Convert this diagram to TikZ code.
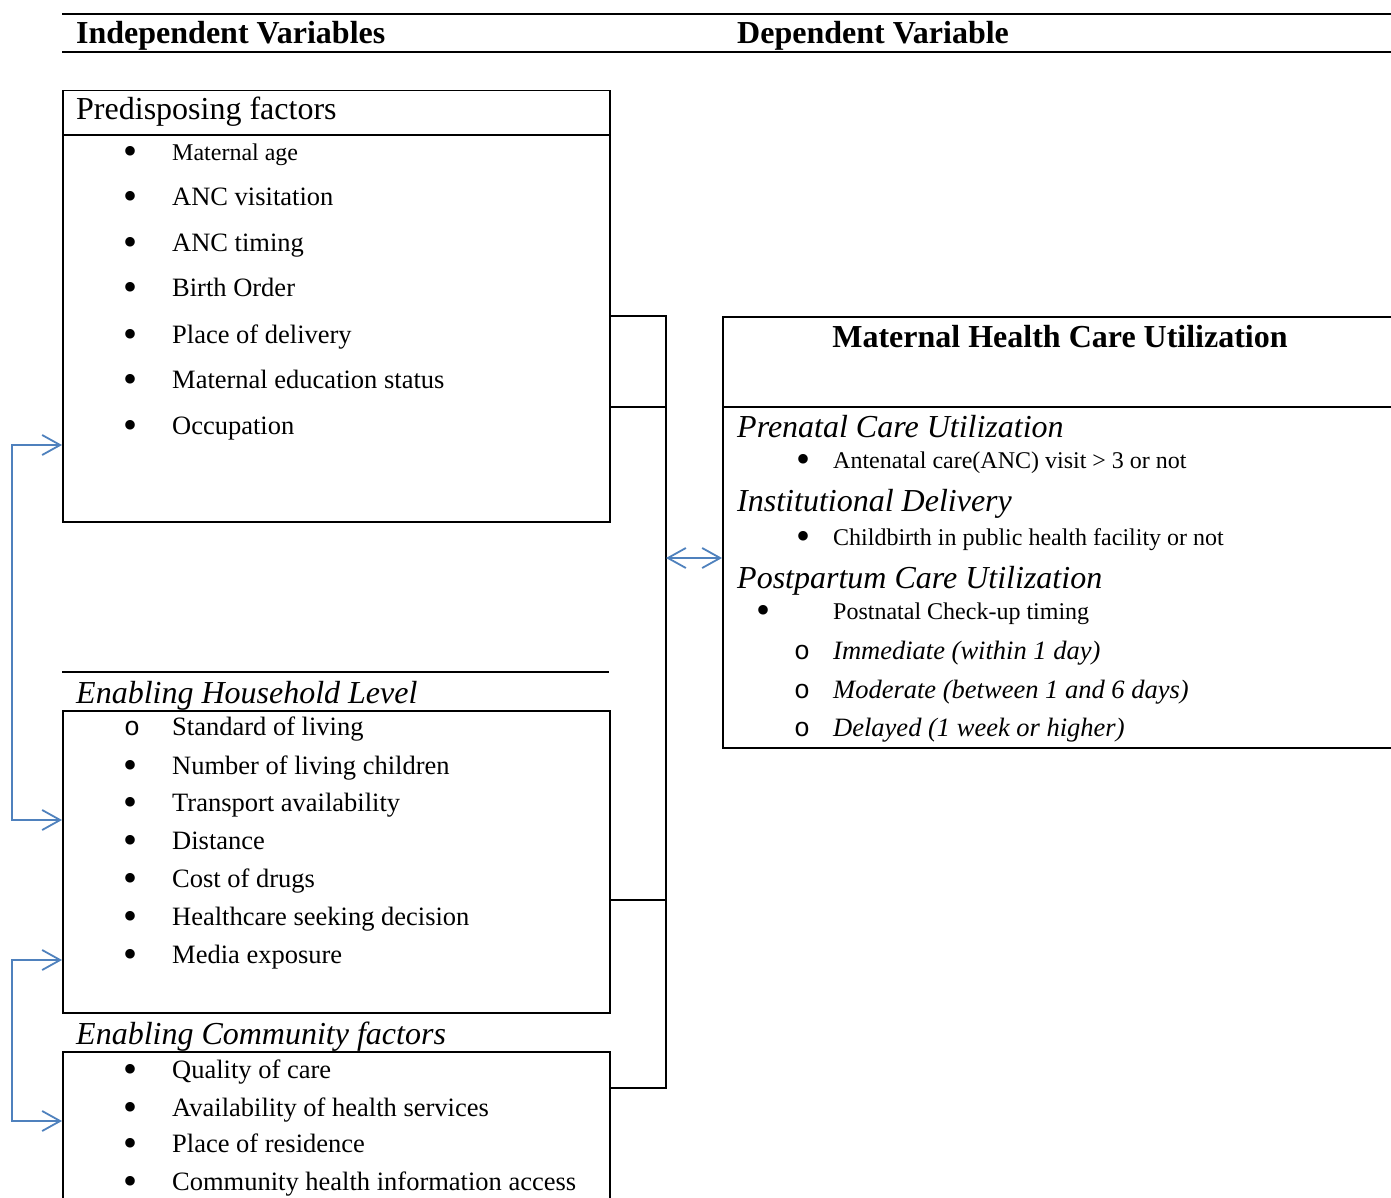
\documentclass[tikz,border=0pt]{standalone}
\usepackage{fontspec}
\setmainfont{Liberation Serif}
\newfontfamily\ringfont{Liberation Mono}
\usetikzlibrary{arrows.meta, positioning}
\definecolor{linkblue}{RGB}{79,129,189}
\newcommand{\dotmark}{\smash{\raisebox{-4pt}{\fontsize{40}{40}\selectfont\textbullet}}}

\begin{document}
\begin{tikzpicture}[x=1pt, y=-1pt,
  rule/.style={line width=1.5pt},
  panel/.style={draw, line width=1.5pt, anchor=north west, inner sep=0pt, minimum width=547pt},
  txt/.style={anchor=mid west, inner sep=0pt, font=\fontsize{26.5}{30}\selectfont},
  smalltxt/.style={anchor=mid west, inner sep=0pt, font=\fontsize{24}{28}\selectfont},
  head/.style={anchor=base west, inner sep=0pt, font=\fontsize{32}{36}\selectfont},
  bluelink/.style={draw=linkblue, line width=1.8pt, {Straight Barb[length=18pt,width=20pt]}-{Straight Barb[length=18pt,width=20pt]}},
]
\useasboundingbox (0,0) rectangle (1391,1198);

% column headings
\draw[rule] (62,14) -- (1395,14);
\draw[rule] (62,52) -- (1395,52);
\node[head, font=\fontsize{32}{36}\selectfont\bfseries] (indep) at (76,44) {Independent Variables};
\node[head, font=\fontsize{32}{36}\selectfont\bfseries] (depvar) at (737,44) {Dependent Variable};

% predisposing factors
\node[panel, minimum height=431pt] (pre) at (62,90) {};
\draw[rule] (pre.west |- 0,135) -- (pre.east |- 0,135);
\node[head] (pretitle) at (76,120) {Predisposing factors};
\node[smalltxt] (pre0) at (123,158) {\makebox[49pt][l]{\dotmark}Maternal age};
\foreach \y/\t [count=\i] in {203/ANC visitation, 249/ANC timing, 294/Birth Order,
    341/Place of delivery, 386/Maternal education status, 432/Occupation}
  \node[txt] (pre\i) at (123,\y) {\makebox[49pt][l]{\dotmark}\t};

% enabling household level
\draw[rule] (62,672) -- (609,672);
\node[head, font=\fontsize{32}{36}\selectfont\itshape] (hhtitle) at (76,703) {Enabling Household Level};
\node[panel, minimum height=302pt] (hh) at (62,710) {};
\node[txt] (hh0) at (124,733) {\makebox[48pt][l]{\ringfont o}Standard of living};
\foreach \y/\t [count=\i] in {772/Number of living children, 809/Transport availability,
    847/Distance, 885/Cost of drugs, 923/Healthcare seeking decision, 961/Media exposure}
  \node[txt] (hh\i) at (123,\y) {\makebox[49pt][l]{\dotmark}\t};

% enabling community factors
\node[head, font=\fontsize{32}{36}\selectfont\itshape] (commtitle) at (76,1044) {Enabling Community factors};
\node[panel, minimum height=170pt] (comm) at (62,1051) {};
\foreach \y/\t [count=\i] in {1076/Quality of care, 1114/Availability of health services,
    1150/Place of residence, 1188/Community health information access}
  \node[txt] (comm\i) at (123,\y) {\makebox[49pt][l]{\dotmark}\t};

% maternal health care utilization
\node[panel, minimum width=675pt, minimum height=431pt] (dep) at (722,316) {};
\draw[rule] (dep.west |- 0,407) -- (dep.east |- 0,407);
\node[anchor=base, inner sep=0pt, font=\fontsize{32}{36}\selectfont\bfseries] (deptitle) at (1060,347) {Maternal Health Care Utilization};
\node[head, font=\fontsize{32}{36}\selectfont\itshape] (prenatal) at (737,437) {Prenatal Care Utilization};
\node[smalltxt] (prenatal1) at (796,466) {\makebox[37pt][l]{\dotmark}Antenatal care(ANC) visit > 3 or not};
\node[head, font=\fontsize{32}{36}\selectfont\itshape] (instdel) at (737,511) {Institutional Delivery};
\node[smalltxt] (instdel1) at (796,543) {\makebox[37pt][l]{\dotmark}Childbirth in public health facility or not};
\node[head, font=\fontsize{32}{36}\selectfont\itshape] (postpart) at (737,588) {Postpartum Care Utilization};
\node[smalltxt] (postpart1) at (756,617) {\makebox[77pt][l]{\dotmark}Postnatal Check-up timing};
\foreach \y/\t [count=\i] in {657/Immediate (within 1 day), 696/Moderate (between 1 and 6 days),
    734/Delayed (1 week or higher)}
  \node[txt] (timing\i) at (794,\y) {\makebox[39pt][l]{\ringfont o}\itshape\t};

% connectors
\coordinate (spine) at (666,316);
\draw[rule] (pre.east |- dep.north) -- (spine) -- (spine |- 0,1088) -- (comm.east |- 0,1088);
\draw[rule] (pre.east |- 0,407) -- (spine |- 0,407);
\draw[rule] (hh.east |- 0,900) -- (spine |- 0,900);
\draw[bluelink] (spine |- 0,558) -- (dep.west |- 0,558);
\draw[bluelink] (pre.west |- 0,445) -- (12,445) -- (12,820) -- (hh.west |- 0,820);
\draw[bluelink] (hh.west |- 0,960) -- (12,960) -- (12,1121) -- (comm.west |- 0,1121);
\end{tikzpicture}
\end{document}
